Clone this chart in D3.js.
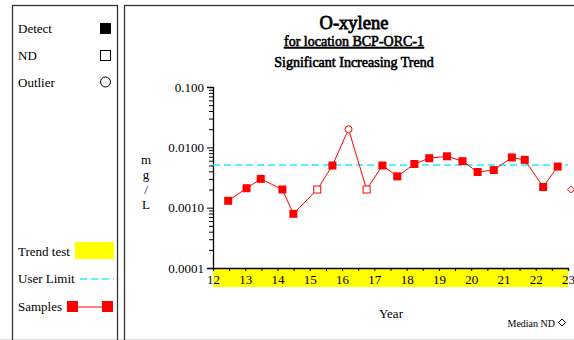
<!DOCTYPE html>
<html>
<head>
<meta charset="utf-8">
<script src="https://cdn.jsdelivr.net/npm/d3@7"></script>
<style>
  body { margin: 0; background: #fff; }
  svg text { font-family: "Liberation Serif", "Times New Roman", serif; }
</style>
</head>
<body>
<div id="chart"></div>
<script>
// sample data (year offset, mg/L, kind)
const sampleYears = [12.47, 13.04, 13.48, 14.15, 14.49, 15.23, 15.70, 16.20, 16.76, 17.25, 17.71,
    18.24, 18.70, 19.25, 19.73, 20.20, 20.70, 21.26, 21.66, 22.23, 22.68];
const sampleValues = [0.0013, 0.0021, 0.0030, 0.0020, 0.00079, 0.0020, 0.0050, 0.020, 0.0020, 0.0050, 0.0033,
    0.0053, 0.0066, 0.0071, 0.0059, 0.0039, 0.0042, 0.0068, 0.0062, 0.0022, 0.0048];
const sampleKinds = ["D", "D", "D", "D", "D", "ND", "D", "O", "ND", "D", "D",
    "D", "D", "D", "D", "D", "D", "D", "D", "D", "D"];
const medianND = { year: 23.09, value: 0.0020 };
const userLimit = 0.005;
const yMajorTicks = [0.0001, 0.001, 0.01, 0.1];
const yMajorLabels = ["0.0001", "0.0010", "0.0100", "0.100"];
const xYears = [12, 13, 14, 15, 16, 17, 18, 19, 20, 21, 22, 23];

const width = 574, height = 340;
const serif = "Liberation Serif";
const cyan = "#22eeff";
const svg = d3.select("#chart").append("svg")
    .attr("width", width)
    .attr("height", height);

// panel frames
svg.append("line").attr("x1", 0).attr("x2", width).attr("y1", 339.5).attr("y2", 339.5)
    .attr("stroke", "#ddd");
svg.append("rect").attr("x", 12.5).attr("y", 5.5).attr("width", 105).attr("height", 340)
    .attr("fill", "none").attr("stroke", "#333").attr("stroke-width", 1.3);
svg.append("rect").attr("x", 124.5).attr("y", 5.5).attr("width", 460).attr("height", 340)
    .attr("fill", "none").attr("stroke", "#333").attr("stroke-width", 1.3);

const x = d3.scaleLinear().domain([12, 23]).range([213, 568]);
const y = d3.scaleLog().domain([0.0001, 0.1]).range([268, 87]);

// titles (bold face faked with a thin stroke so the serif face is kept)
function boldText(tx, ty, size, str) {
    return svg.append("text").attr("x", tx).attr("y", ty).attr("text-anchor", "middle")
        .attr("font-family", serif).attr("font-size", size)
        .attr("stroke", "#000").attr("stroke-width", size > 15 ? 0.8 : 0.6)
        .text(str);
}
boldText(354, 29, 18.5, "O-xylene");
boldText(354, 46, 14, "for location BCP-ORC-1").attr("text-decoration", "underline");
boldText(354, 67, 14, "Significant Increasing Trend");

// trend test strip
svg.append("rect").attr("x", x(12)).attr("y", y(0.0001)).attr("width", x(23) - x(12)).attr("height", 19)
    .attr("fill", "#ffff00");

// y axis
const minorTicks = [];
[0.0001, 0.001, 0.01].forEach(d => { for (let k = 2; k <= 9; k++) minorTicks.push(d * k); });
svg.append("g").attr("transform", `translate(${x(12)},0)`)
    .call(d3.axisLeft(y).tickValues(minorTicks).tickSize(4).tickFormat(""))
    .call(g => g.select(".domain").remove());
const yAxis = svg.append("g").attr("transform", `translate(${x(12)},0)`)
    .call(d3.axisLeft(y).tickValues(yMajorTicks).tickSizeOuter(0).tickSize(6).tickPadding(3)
        .tickFormat((d, i) => yMajorLabels[i]));
yAxis.attr("font-family", serif);
yAxis.selectAll("text").attr("font-size", 13).attr("fill", "#000");
yAxis.select(".domain").attr("stroke-width", 1.3);

// x axis
const halfYears = d3.range(12.5, 23, 1);
svg.append("g").attr("transform", `translate(0,${y(0.0001)})`)
    .call(d3.axisBottom(x).tickValues(halfYears).tickSize(3).tickFormat(""))
    .call(g => g.select(".domain").remove());
const xAxis = svg.append("g").attr("transform", `translate(0,${y(0.0001)})`)
    .call(d3.axisBottom(x).tickValues(xYears).tickSizeOuter(0).tickSize(3).tickPadding(4)
        .tickFormat(d3.format("d")));
xAxis.attr("font-family", serif);
xAxis.selectAll("text").attr("font-size", 13).attr("fill", "#000");
xAxis.select(".domain").attr("stroke-width", 1.3);

// axis titles
["m", "g", "/", "L"].forEach((c, i) => {
    svg.append("text").attr("x", 146).attr("y", 164 + i * 15).attr("text-anchor", "middle")
        .attr("font-family", serif).attr("font-size", 13).text(c);
});
svg.append("text").attr("x", 391).attr("y", 318).attr("text-anchor", "middle")
    .attr("font-family", serif).attr("font-size", 13).text("Year");
svg.append("text").attr("x", 555).attr("y", 327).attr("text-anchor", "end")
    .attr("font-family", serif).attr("font-size", 10).text("Median ND");
svg.append("path").attr("d", "M562,319 l3.5,3.5 l-3.5,3.5 l-3.5,-3.5 Z")
    .attr("fill", "none").attr("stroke", "#000").attr("stroke-width", 1);

// user limit
const yl = Math.round(y(userLimit));
svg.append("line").attr("x1", x(12)).attr("x2", x(23))
    .attr("y1", yl).attr("y2", yl)
    .attr("stroke", cyan).attr("stroke-width", 1.5).attr("stroke-dasharray", "7,4");

// samples line
const samples = sampleYears.map((d, i) => ({ year: d, value: sampleValues[i], kind: sampleKinds[i] }));
svg.append("path").datum(samples)
    .attr("d", d3.line().x(d => x(d.year)).y(d => y(d.value)))
    .attr("fill", "none").attr("stroke", "#ff0000").attr("stroke-width", 1);

const marks = svg.append("g");
samples.forEach(d => {
    const cx = x(d.year), cy = y(d.value);
    if (d.kind === "D") {
        marks.append("rect").attr("x", cx - 4).attr("y", cy - 4).attr("width", 8).attr("height", 8)
            .attr("fill", "#ff0000");
    } else if (d.kind === "ND") {
        marks.append("rect").attr("x", cx - 3.5).attr("y", cy - 3.5).attr("width", 7).attr("height", 7)
            .attr("fill", "#fff").attr("stroke", "#ff0000").attr("stroke-width", 1);
    } else {
        marks.append("circle").attr("cx", cx).attr("cy", cy).attr("r", 3.5)
            .attr("fill", "#fff").attr("stroke", "#ff0000").attr("stroke-width", 1);
    }
});
marks.append("path")
    .attr("d", `M${x(medianND.year)},${y(medianND.value) - 3.5} l3.5,3.5 l-3.5,3.5 l-3.5,-3.5 Z`)
    .attr("fill", "#fff").attr("stroke", "#ff0000").attr("stroke-width", 1);

// legend
const legend = svg.append("g").attr("font-size", 13).attr("font-family", serif);
legend.append("text").attr("x", 18).attr("y", 33).text("Detect");
legend.append("rect").attr("x", 100).attr("y", 23).attr("width", 11).attr("height", 11).attr("fill", "#000");
legend.append("text").attr("x", 18).attr("y", 60).text("ND");
legend.append("rect").attr("x", 100.5).attr("y", 50.5).attr("width", 10).attr("height", 10)
    .attr("fill", "none").attr("stroke", "#000");
legend.append("text").attr("x", 18).attr("y", 87).text("Outlier");
legend.append("circle").attr("cx", 105.5).attr("cy", 82).attr("r", 5)
    .attr("fill", "none").attr("stroke", "#000");

legend.append("text").attr("x", 18).attr("y", 256).text("Trend test");
legend.append("rect").attr("x", 75).attr("y", 242).attr("width", 39).attr("height", 17).attr("fill", "#ffff00");
legend.append("text").attr("x", 18).attr("y", 283).text("User Limit");
legend.append("line").attr("x1", 80).attr("x2", 114).attr("y1", 279).attr("y2", 279)
    .attr("stroke", cyan).attr("stroke-width", 1.5).attr("stroke-dasharray", "7,4");
legend.append("text").attr("x", 18).attr("y", 311).text("Samples");
legend.append("line").attr("x1", 72).attr("x2", 108).attr("y1", 307).attr("y2", 307)
    .attr("stroke", "#ff0000");
legend.append("rect").attr("x", 67).attr("y", 301).attr("width", 11).attr("height", 11).attr("fill", "#ff0000");
legend.append("rect").attr("x", 102).attr("y", 301).attr("width", 11).attr("height", 11).attr("fill", "#ff0000");
</script>
</body>
</html>
